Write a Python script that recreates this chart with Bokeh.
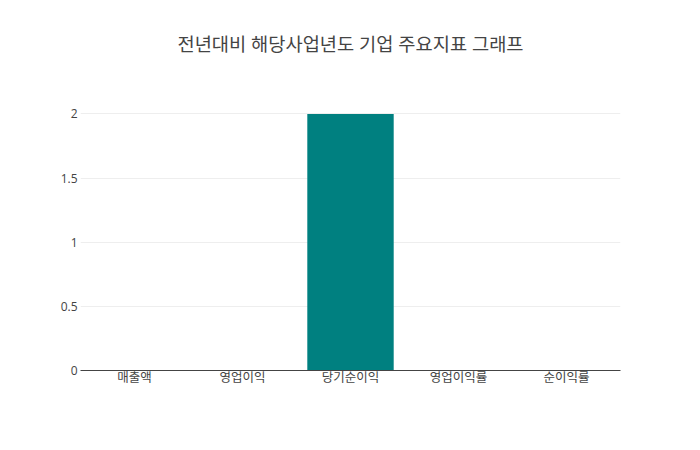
from bokeh.plotting import figure
from bokeh.models import Range1d, FactorRange, FixedTicker, Title, ColumnDataSource
from bokeh.embed import file_html
from bokeh.resources import INLINE

categories = ["매출액", "영업이익", "당기순이익", "영업이익률", "순이익률"]
values = [0, 0, 2, 0, 0]
y_ticks = [0, 0.5, 1, 1.5, 2]
title_text = "전년대비 해당사업년도 기업 주요지표 그래프"

FONT = "'Open Sans', 'Noto Sans CJK KR'"
Y_MAX = 2.105

src = ColumnDataSource(dict(cat=categories, val=values))

p = figure(width=684, height=434, output_backend="svg", toolbar_location=None,
           x_range=FactorRange(factors=categories, range_padding=0),
           y_range=Range1d(0, Y_MAX),
           min_border_left=80, min_border_right=64, min_border_top=100, min_border_bottom=64)
p.outline_line_color = None
p.background_fill_color = "white"
p.border_fill_color = "white"

p.vbar(x="cat", top="val", width=0.8, source=src, fill_color="#008080", line_color=None)

# blank spacer between plot area and title
spacer = Title(text=" ", text_font_size="1px", standoff=32, text_color="#ffffff")
p.add_layout(spacer, "above")
t = Title(text=title_text, align="center", text_font=FONT, text_font_size="18.7px",
          text_color="#444444", text_font_style="normal", offset=0, standoff=20)
p.add_layout(t, "above")

p.yaxis.ticker = FixedTicker(ticks=y_ticks)
p.yaxis.axis_line_color = None
p.yaxis.major_tick_line_color = None
p.yaxis.minor_tick_line_color = None
p.yaxis.major_tick_out = 0
p.yaxis.major_tick_in = 0
p.yaxis.minor_tick_out = 0
p.yaxis.major_label_text_font = FONT
p.yaxis.major_label_text_font_size = "12px"
p.yaxis.major_label_text_color = "#444444"
p.yaxis.major_label_standoff = 3

p.xaxis.axis_line_color = "#444444"
p.xaxis.axis_line_width = 1
p.xaxis.major_tick_line_color = None
p.xaxis.minor_tick_line_color = None
p.xaxis.major_tick_out = 0
p.xaxis.major_tick_in = 0
p.xaxis.minor_tick_out = 0
p.xaxis.major_label_text_font = FONT
p.xaxis.major_label_text_font_size = "12.5px"
p.xaxis.major_label_text_color = "#444444"
p.xaxis.major_label_standoff = -2

p.xgrid.grid_line_color = None
p.ygrid.grid_line_color = "#eeeeee"
p.ygrid.grid_line_width = 1

open("out.html", "w").write(file_html(p, INLINE))
